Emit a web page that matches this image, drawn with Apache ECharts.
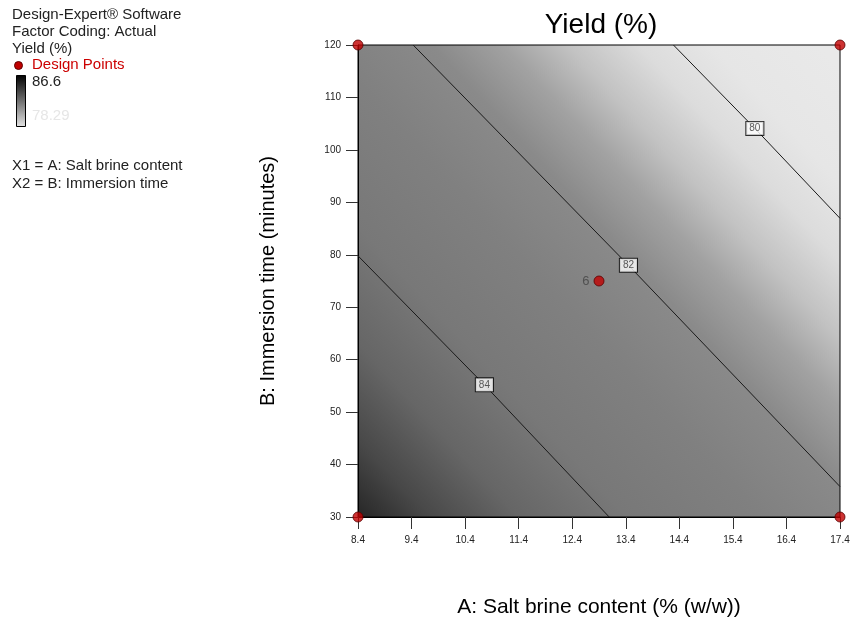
<!DOCTYPE html>
<html>
<head>
<meta charset="utf-8">
<script src="https://cdn.jsdelivr.net/npm/echarts@6/dist/echarts.min.js"></script>
<style>html,body{margin:0;padding:0;background:#fff}#c{width:850px;height:617px}</style>
</head>
<body>
<div id="c"></div>
<script>
// ---- data ----
const chartTitle = 'Yield (%)';
const xName = 'A: Salt brine content (% (w/w))';
const yName = 'B: Immersion time (minutes)';
const xMin = 8.4, xMax = 17.4, xStep = 1;
const yMin = 30, yMax = 120, yStep = 10;
const yieldHigh = 86.6, yieldLow = 78.29;
const designPoints = [[8.4, 30], [17.4, 30], [8.4, 120], [17.4, 120], [12.9, 75]];
const centerPointCount = 6;
const contourLevels = [84, 82, 80];
const contour84 = [[8.4, 79.8], [10.76, 55.2], [13.09, 30]];
const contour82 = [[9.43, 120], [13.45, 78.0], [17.4, 35.8]];
const contour80 = [[14.29, 120], [15.81, 104.1], [17.4, 86.95]];
const contourLabelPoints = [[10.76, 55.2, '84'], [13.45, 78.0, '82'], [15.81, 104.1, '80']];
const infoLines = ['Design-Expert® Software', 'Factor Coding: Actual', 'Yield (%)'];
const factorLines = ['X1 = A: Salt brine content', 'X2 = B: Immersion time'];

// ---- chart ----
const FONT = 'Liberation Sans, Arial, sans-serif';
const chart = echarts.init(document.getElementById('c'), null, {renderer: 'canvas'});

const surfaceFill = new echarts.graphic.LinearGradient(0, 1, 1, 0.05, [
  {offset: 0.00, color: '#262626'},
  {offset: 0.08, color: '#484848'},
  {offset: 0.18, color: '#666666'},
  {offset: 0.30, color: '#787878'},
  {offset: 0.45, color: '#808080'},
  {offset: 0.57, color: '#8a8a8a'},
  {offset: 0.65, color: '#a2a2a2'},
  {offset: 0.72, color: '#c2c2c2'},
  {offset: 0.80, color: '#dcdcdc'},
  {offset: 0.88, color: '#e6e6e6'},
  {offset: 1.00, color: '#e9e9e9'}
]);

function contourSeries(level, pts) {
  return {
    type: 'line', name: 'contour ' + level, data: pts,
    symbol: 'none', silent: true, z: 3,
    lineStyle: {color: '#1a1a1a', width: 1}
  };
}

const graphics = [];
infoLines.forEach((t, i) => graphics.push({
  type: 'text', left: 12, top: 7 + i * 17,
  style: {text: t, fill: '#222', font: '15px ' + FONT}
}));
graphics.push({type: 'circle', left: 14, top: 61, shape: {r: 4},
  style: {fill: '#c00000', stroke: '#600000', lineWidth: 1}});
graphics.push({type: 'text', left: 32, top: 57,
  style: {text: 'Design Points', fill: '#cc0000', font: '15px ' + FONT}});
graphics.push({type: 'rect', left: 16, top: 75, shape: {width: 9, height: 51},
  style: {fill: new echarts.graphic.LinearGradient(0, 0, 0, 1, [
    {offset: 0, color: '#000'}, {offset: 0.5, color: '#707070'}, {offset: 1, color: '#e4e4e4'}]),
    stroke: '#000', lineWidth: 1}});
graphics.push({type: 'text', left: 32, top: 74,
  style: {text: String(yieldHigh), fill: '#222', font: '15px ' + FONT}});
graphics.push({type: 'text', left: 32, top: 108,
  style: {text: String(yieldLow), fill: '#e6e6e6', font: '15px ' + FONT}});
factorLines.forEach((t, i) => graphics.push({
  type: 'text', left: 12, top: 158 + i * 18,
  style: {text: t, fill: '#222', font: '15px ' + FONT}
}));

chart.setOption({
  animation: false,
  backgroundColor: '#fff',
  textStyle: {fontFamily: FONT},
  title: {
    text: chartTitle, left: 596, top: 6, textAlign: 'center',
    textStyle: {fontSize: 28, fontWeight: 'normal', color: '#000', fontFamily: FONT}
  },
  graphic: graphics,
  grid: {
    left: 358, top: 45, width: 482, height: 472, outerBoundsMode: 'none', containLabel: false,
    show: true, backgroundColor: surfaceFill, borderColor: '#000', borderWidth: 1
  },
  xAxis: {
    type: 'value', min: xMin, max: xMax, interval: xStep,
    name: xName, nameLocation: 'middle', nameGap: 80,
    nameTextStyle: {fontSize: 21, color: '#000', fontFamily: FONT},
    axisLine: {show: true, lineStyle: {color: '#000', width: 1}},
    axisTick: {show: true, length: 12, lineStyle: {color: '#333'}},
    axisLabel: {fontSize: 10, color: '#222', margin: 18, formatter: v => v.toFixed(1)},
    splitLine: {show: false}
  },
  yAxis: {
    type: 'value', min: yMin, max: yMax, interval: yStep,
    name: yName, nameLocation: 'middle', nameGap: 80,
    nameTextStyle: {fontSize: 20, color: '#000', fontFamily: FONT},
    axisLine: {show: true, lineStyle: {color: '#000', width: 1}},
    axisTick: {show: true, length: 12, lineStyle: {color: '#333'}},
    axisLabel: {fontSize: 10, color: '#222', margin: 17},
    splitLine: {show: false}
  },
  series: [
    contourSeries(contourLevels[0], contour84),
    contourSeries(contourLevels[1], contour82),
    contourSeries(contourLevels[2], contour80),
    {
      type: 'scatter', name: 'contour labels', data: contourLabelPoints,
      symbolSize: 1, itemStyle: {color: 'rgba(0,0,0,0)'}, z: 4, silent: true,
      label: {
        show: true, position: 'inside', formatter: p => p.value[2],
        fontSize: 10, color: '#333', backgroundColor: '#fff',
        borderColor: '#000', borderWidth: 1, padding: [2, 3, 1, 3]
      }
    },
    {
      type: 'scatter', name: 'Design Points', data: designPoints,
      symbol: 'circle', symbolSize: 10, clip: false, z: 5,
      itemStyle: {color: '#c00000', borderColor: '#5a0000', borderWidth: 1},
      label: {
        show: true, position: 'left', distance: 4, fontSize: 13, color: '#444',
        formatter: p => (p.dataIndex === designPoints.length - 1 ? String(centerPointCount) : '')
      }
    }
  ]
});
</script>
</body>
</html>
